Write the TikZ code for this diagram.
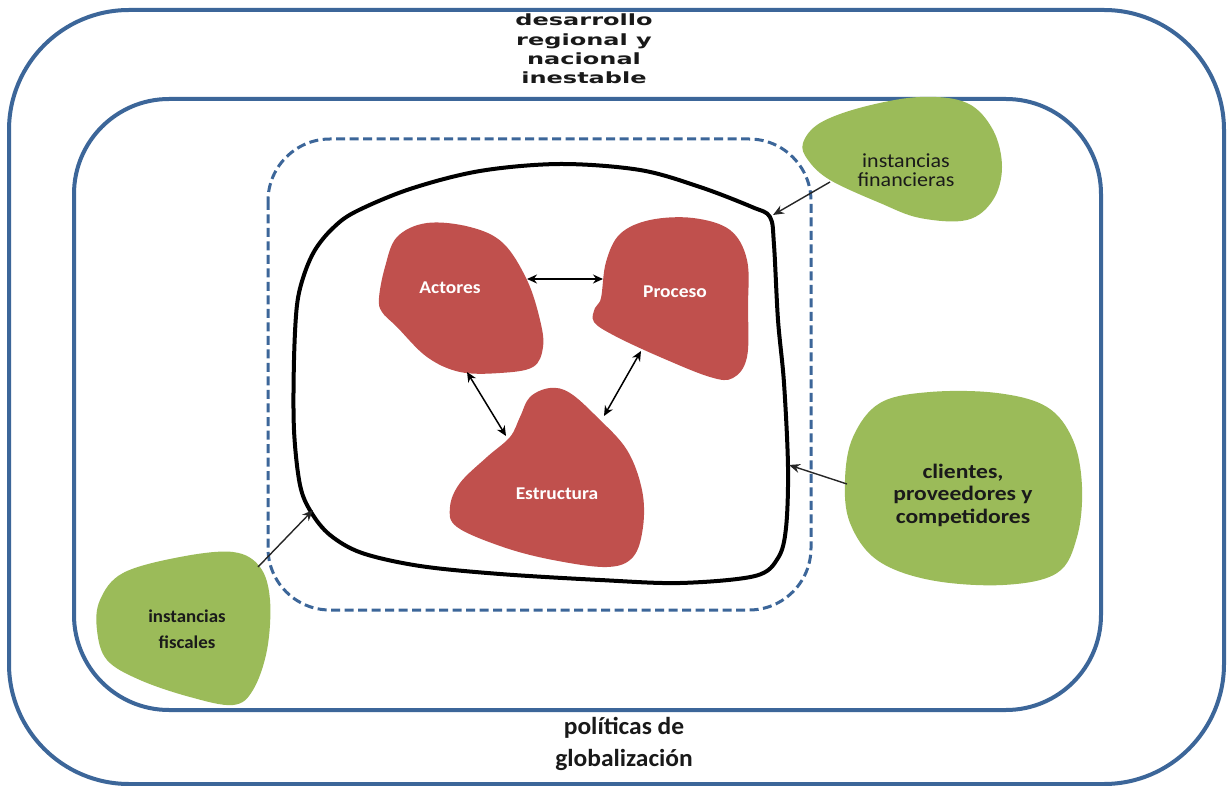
\documentclass[tikz,border=0pt]{standalone}
\usepackage{fontspec}
\setmainfont{Carlito}
\newfontfamily\titlefont{DejaVu Sans}
\usetikzlibrary{arrows.meta}
\definecolor{frameblue}{HTML}{3C6699}
\definecolor{redblob}{HTML}{C0504D}
\definecolor{greenblob}{HTML}{9BBB59}
\definecolor{txtdark}{HTML}{1A1A1A}
\begin{document}
\begin{tikzpicture}[x=1pt,y=-1pt,
  frame/.style={draw=frameblue, line width=4pt, rounded corners=#1},
  dashframe/.style={draw=frameblue, line width=3pt, dash pattern=on 9pt off 4.5pt, rounded corners=62},
  blackcurve/.style={draw=black, line width=4pt},
  redfill/.style={fill=redblob},
  greenfill/.style={fill=greenblob},
  redtext/.style={text=white, font=\bfseries\fontsize{18}{20}\selectfont, xscale=1.08},
  greentext/.style={text=txtdark, align=center},
  biarrow/.style={{Stealth[length=10pt,width=9pt]}-{Stealth[length=10pt,width=9pt]}, line width=1.5pt, draw=black},
  inarrow/.style={-{Stealth[length=11pt,width=9pt]}, line width=1.4pt, draw=black!85},
  bigtitle/.style={font=\titlefont\bfseries\fontsize{15.5}{19.3}\selectfont, align=center, xscale=1.55, text=black!90},
  bottomtitle/.style={font=\bfseries\fontsize{24.5}{32}\selectfont, align=center, xscale=1.04, text=black!90}
]
\useasboundingbox (0,0) rectangle (1227,786);
\fill[white] (0,0) rectangle (1227,786);

% frames
\draw[frame=120] (9,10) rectangle (1224,784);
\draw[frame=95] (74,99) rectangle (1101,710);
\draw[dashframe] (268,139) rectangle (811,610);

% outer texts
\node[bigtitle] (titletop) at (584,49) {desarrollo\\regional y\\nacional\\inestable};
\node[bottomtitle] (titlebottom) at (624,744) {políticas de\\globalización};

% black enterprise contour
\draw[blackcurve] plot[smooth cycle, tension=0.55] coordinates {
 (355,212) (410,189) (480,171) (560,164) (640,170) (700,187) (752,207) (770,217)
 (774,245) (778,320) (784,383) (788,467) (786,528) (778,558) (755,576)
 (680,583) (600,580) (500,574) (420,566) (362,553) (330,535) (311,512) (300,485)
 (294,430) (294,360) (297,305) (304,275) (315,250) (332,229)};

% red blobs
\fill[redfill] plot[smooth cycle, tension=0.6] coordinates {
 (379,298) (385,267) (397,237) (427,223) (470,227) (503,243) (527,280)
 (540,320) (543,347) (533,367) (500,373) (460,372) (427,357) (397,327) (382,312)};
\fill[redfill] plot[smooth cycle, tension=0.6] coordinates {
 (601,298) (606,262) (620,234) (650,220) (693,218) (730,230)
 (747,260) (748,307) (747,357) (733,378) (710,377) (660,357) (615,336) (594,322) (595,308)};
\fill[redfill] plot[smooth cycle, tension=0.6] coordinates {
 (550,388) (530,397) (520,417) (510,437) (487,457) (460,483) (450,507)
 (457,527) (503,547) (553,560) (607,567) (633,557) (643,527) (642,490)
 (627,450) (597,417) (570,393)};

\node[redtext] (actores) at (450,288) {Actores};
\node[redtext] (proceso) at (675,292) {Proceso};
\node[redtext] (estructura) at (557,494) {Estructura};

% green blobs
\fill[greenfill] plot[smooth cycle, tension=0.6] coordinates {
 (803,143) (820,123) (863,107) (920,97) (967,103) (993,130) (1002,167)
 (993,200) (967,220) (920,218) (880,203) (830,180) (808,160)};
\fill[greenfill] plot[smooth cycle, tension=0.6] coordinates {
 (845,480) (853,437) (880,403) (930,392) (997,393) (1047,407) (1073,440)
 (1082,487) (1077,537) (1057,573) (1003,585) (930,580) (877,560) (850,523)};
\fill[greenfill] plot[smooth cycle, tension=0.6] coordinates {
 (100,600) (123,573) (180,557) (233,552) (260,567) (270,600) (267,650)
 (253,690) (233,705) (190,697) (140,680) (107,660) (97,630)};

\node[greentext, font=\fontsize{20}{19.5}\selectfont, xscale=1.1] (financieras) at (906,170) {instancias\\financieras};
\node[greentext, font=\bfseries\fontsize{20.5}{22.5}\selectfont, xscale=1.15] (clientes) at (963,495) {clientes,\\proveedores y\\competidores};
\node[greentext, font=\bfseries\fontsize{18}{26}\selectfont, xscale=1.05] (fiscales) at (187,629) {instancias\\fiscales};

% connector end points
\coordinate (actE) at (527,279);
\coordinate (proW) at (603,279);
\coordinate (actS) at (467,372);
\coordinate (estNW) at (506,436);
\coordinate (proSW) at (641,351);
\coordinate (estNE) at (604,416);
\coordinate (finSrc) at (830,182);
\coordinate (finDst) at (773,215);
\coordinate (cliSrc) at (847,484);
\coordinate (cliDst) at (789,465);
\coordinate (fisSrc) at (258,567);
\coordinate (fisDst) at (313,510);

\draw[biarrow] (actE) -- (proW);
\draw[biarrow] (actS) -- (estNW);
\draw[biarrow] (proSW) -- (estNE);
\draw[inarrow] (finSrc) -- (finDst);
\draw[inarrow] (cliSrc) -- (cliDst);
\draw[inarrow] (fisSrc) -- (fisDst);
\end{tikzpicture}
\end{document}
